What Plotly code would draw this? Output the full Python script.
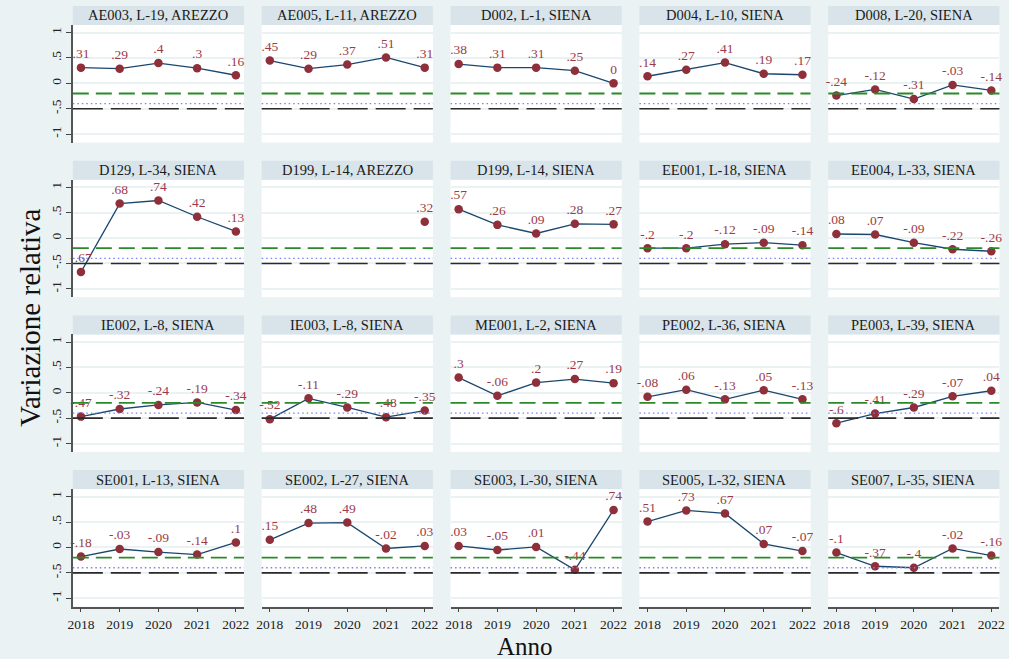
import plotly.graph_objects as go
from plotly.subplots import make_subplots

years = [2018, 2019, 2020, 2021, 2022]

panel_titles = [
    "AE003, L-19, AREZZO", "AE005, L-11, AREZZO", "D002, L-1, SIENA", "D004, L-10, SIENA", "D008, L-20, SIENA",
    "D129, L-34, SIENA", "D199, L-14, AREZZO", "D199, L-14, SIENA", "EE001, L-18, SIENA", "EE004, L-33, SIENA",
    "IE002, L-8, SIENA", "IE003, L-8, SIENA", "ME001, L-2, SIENA", "PE002, L-36, SIENA", "PE003, L-39, SIENA",
    "SE001, L-13, SIENA", "SE002, L-27, SIENA", "SE003, L-30, SIENA", "SE005, L-32, SIENA", "SE007, L-35, SIENA",
]

AE003_L19_AR = [0.31, 0.29, 0.40, 0.30, 0.16]
AE005_L11_AR = [0.45, 0.29, 0.37, 0.51, 0.31]
D002_L1_SI = [0.38, 0.31, 0.31, 0.25, 0.00]
D004_L10_SI = [0.14, 0.27, 0.41, 0.19, 0.17]
D008_L20_SI = [-0.24, -0.12, -0.31, -0.03, -0.14]
D129_L34_SI = [-0.67, 0.68, 0.74, 0.42, 0.13]
D199_L14_AR = [None, None, None, None, 0.32]
D199_L14_SI = [0.57, 0.26, 0.09, 0.28, 0.27]
EE001_L18_SI = [-0.20, -0.20, -0.12, -0.09, -0.14]
EE004_L33_SI = [0.08, 0.07, -0.09, -0.22, -0.26]
IE002_L8_SI = [-0.47, -0.32, -0.24, -0.19, -0.34]
IE003_L8_SI = [-0.52, -0.11, -0.29, -0.48, -0.35]
ME001_L2_SI = [0.30, -0.06, 0.20, 0.27, 0.19]
PE002_L36_SI = [-0.08, 0.06, -0.13, 0.05, -0.13]
PE003_L39_SI = [-0.60, -0.41, -0.29, -0.07, 0.04]
SE001_L13_SI = [-0.18, -0.03, -0.09, -0.14, 0.10]
SE002_L27_SI = [0.15, 0.48, 0.49, -0.02, 0.03]
SE003_L30_SI = [0.03, -0.05, 0.01, -0.44, 0.74]
SE005_L32_SI = [0.51, 0.73, 0.67, 0.07, -0.07]
SE007_L35_SI = [-0.10, -0.37, -0.40, -0.02, -0.16]

series = [
    AE003_L19_AR, AE005_L11_AR, D002_L1_SI, D004_L10_SI, D008_L20_SI,
    D129_L34_SI, D199_L14_AR, D199_L14_SI, EE001_L18_SI, EE004_L33_SI,
    IE002_L8_SI, IE003_L8_SI, ME001_L2_SI, PE002_L36_SI, PE003_L39_SI,
    SE001_L13_SI, SE002_L27_SI, SE003_L30_SI, SE005_L32_SI, SE007_L35_SI,
]

ref_lines = [-0.2, -0.4, -0.5]
y_tickvals = [-1, -0.5, 0, 0.5, 1]
y_ticktext = ["-1", "-.5", "0", ".5", "1"]


def fmt(v):
    if v is None:
        return ""
    s = f"{v:.2f}".rstrip("0").rstrip(".")
    if s.startswith("0."):
        s = s[1:]
    elif s.startswith("-0."):
        s = "-" + s[2:]
    if s == "-0":
        s = "0"
    return s


W, H = 1009, 659
FONT = "Liberation Serif"
BG = "#eaf2f3"
STRIP = "#d8e4e9"
NAVY = "#1a476f"
MAROON = "#8e2f3a"
LABEL = "#9a3b47"

NR, NC = 4, 5
fig = make_subplots(rows=NR, cols=NC, horizontal_spacing=0.02, vertical_spacing=0.02)

x0_px, pw, xpitch = 68.5, 172.9, 190.75
top0_px, strip_h, ph, ypitch = 6.0, 19.0, 117.5, 154.7

shapes = []
annotations = []

for i, (title, vals) in enumerate(zip(panel_titles, series)):
    r, c = divmod(i, NC)
    fig.add_trace(
        go.Scatter(
            x=years, y=vals, mode="lines+markers+text",
            line=dict(color=NAVY, width=1.3),
            marker=dict(color=MAROON, size=8.5),
            text=[fmt(v) for v in vals], textposition="top center",
            textfont=dict(family=FONT, size=13.5, color=LABEL),
            cliponaxis=False, showlegend=False, hoverinfo="skip",
        ),
        row=r + 1, col=c + 1,
    )
    xl = x0_px + c * xpitch
    xr = xl + pw
    st = top0_px + r * ypitch
    pt = st + strip_h
    pb = pt + ph
    idx = "" if i == 0 else str(i + 1)
    fig.layout["xaxis" + idx].domain = [xl / W, xr / W]
    fig.layout["yaxis" + idx].domain = [1 - pb / H, 1 - pt / H]

    # strip
    shapes.append(dict(type="rect", xref="paper", yref="paper",
                       x0=xl / W, x1=xr / W, y0=1 - pt / H, y1=1 - st / H,
                       fillcolor=STRIP, line=dict(width=0), layer="below"))
    annotations.append(dict(text=title, xref="paper", yref="paper",
                            x=(xl + xr) / 2 / W, y=1 - (st + strip_h / 2) / H,
                            xanchor="center", yanchor="middle", showarrow=False,
                            font=dict(family=FONT, size=14.5, color="#1a1a1a")))

    # reference lines
    xd = ("x" + idx + " domain")
    yr = "y" + idx
    shapes.append(dict(type="line", xref=xd, yref=yr, x0=0, x1=1, y0=ref_lines[0], y1=ref_lines[0],
                       line=dict(color="#2a8a2a", width=1.8, dash="16px,7px"), layer="above"))
    shapes.append(dict(type="line", xref=xd, yref=yr, x0=0, x1=1, y0=ref_lines[1], y1=ref_lines[1],
                       line=dict(color="#7f7ff5", width=1.3, dash="1.5px,3px"), layer="above"))
    shapes.append(dict(type="line", xref=xd, yref=yr, x0=0, x1=1, y0=ref_lines[2], y1=ref_lines[2],
                       line=dict(color="#2a2a2a", width=1.6, dash="30px,8px"), layer="above"))

    bottom = (r == NR - 1)
    left = (c == 0)
    fig.update_xaxes(
        row=r + 1, col=c + 1, range=[2017.79, 2022.21], showgrid=False, zeroline=False,
        tickvals=years, ticktext=[str(y) for y in years] if bottom else None,
        showticklabels=bottom, ticks="outside" if bottom else "", ticklen=4, tickwidth=1.2,
        tickcolor="#444", showline=bottom, linecolor="#555", linewidth=1.6,
        tickfont=dict(family=FONT, size=13.5, color="#222"),
    )
    fig.update_yaxes(
        row=r + 1, col=c + 1, range=[-1.165, 1.15], showgrid=True, gridcolor=BG, gridwidth=1.6,
        zeroline=False, tickvals=y_tickvals, ticktext=y_ticktext,
        showticklabels=left, ticks="outside" if left else "", ticklen=5, tickwidth=1.2,
        tickcolor="#444", showline=left, linecolor="#555", linewidth=1.6, tickangle=-90,
        tickfont=dict(family=FONT, size=13.5, color="#222"),
    )

annotations.append(dict(text="Variazione relativa", xref="paper", yref="paper",
                        x=25 / W, y=1 - 318 / H, textangle=-90, showarrow=False,
                        xanchor="center", yanchor="middle",
                        font=dict(family=FONT, size=29, color="#111")))
annotations.append(dict(text="Anno", xref="paper", yref="paper",
                        x=525 / W, y=1 - 646 / H, showarrow=False,
                        xanchor="center", yanchor="middle",
                        font=dict(family=FONT, size=25, color="#111")))

fig.update_layout(
    width=W, height=H, margin=dict(l=0, r=0, t=0, b=0),
    paper_bgcolor=BG, plot_bgcolor="white",
    shapes=shapes, annotations=annotations, showlegend=False,
)

fig.write_html(
    "out.html",
    config={"displayModeBar": False},
    post_script="document.body.style.margin='0';document.body.style.overflow='hidden';",
)
